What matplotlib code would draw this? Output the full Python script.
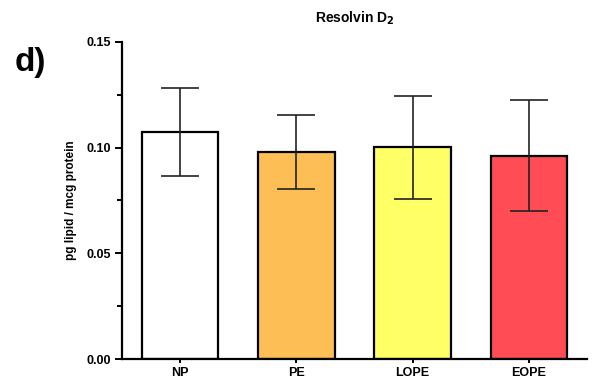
import matplotlib.pyplot as plt
from matplotlib.ticker import MultipleLocator

plt.rcParams['font.family'] = ['Liberation Sans', 'DejaVu Sans']
plt.rcParams['font.weight'] = 'bold'

groups = ["NP", "PE", "LOPE", "EOPE"]
means = [0.1076, 0.0979, 0.1002, 0.0962]
sd = [0.0208, 0.0175, 0.0243, 0.0262]
colors = ["#FFFFFF", "#FDBF55", "#FFFF66", "#FF4C55"]

fig = plt.figure(figsize=(5.92, 3.85), dpi=100)
ax = fig.add_axes([0.206, 0.0675, 0.7856, 0.8235])

x = range(len(groups))
ax.bar(x, means, width=0.66, color=colors, edgecolor="black", linewidth=1.6, zorder=2)
ax.errorbar(x, means, yerr=sd, fmt="none", ecolor="#222222", elinewidth=1.2,
            capsize=13.5, capthick=1.2, zorder=3)

ax.set_xlim(-0.5, 3.5)
ax.set_ylim(0, 0.15)
ax.yaxis.set_major_locator(MultipleLocator(0.05))
ax.yaxis.set_minor_locator(MultipleLocator(0.025))
ax.set_yticks([0, 0.05, 0.10, 0.15])
ax.set_yticklabels(["0.00", "0.05", "0.10", "0.15"])
ax.set_xticks(list(x))
ax.set_xticklabels(groups)

for s in ["top", "right"]:
    ax.spines[s].set_visible(False)
for s in ["left", "bottom"]:
    ax.spines[s].set_linewidth(1.6)

ax.tick_params(axis="y", which="major", length=5, width=1.4, labelsize=9, pad=3)
ax.tick_params(axis="y", which="minor", length=3.5, width=1.4)
ax.tick_params(axis="x", which="major", length=3, width=1.4, labelsize=9, pad=3)

ax.set_ylabel("pg lipid / mcg protein", fontsize=8.5, fontweight="bold", labelpad=7)
ax.set_title("Resolvin D$_\\mathbf{2}$", fontsize=10, fontweight="bold", pad=14)

fig.text(0.025, 0.815, "d)", fontsize=24, fontweight="bold")

fig.savefig("out.png", dpi=100)
